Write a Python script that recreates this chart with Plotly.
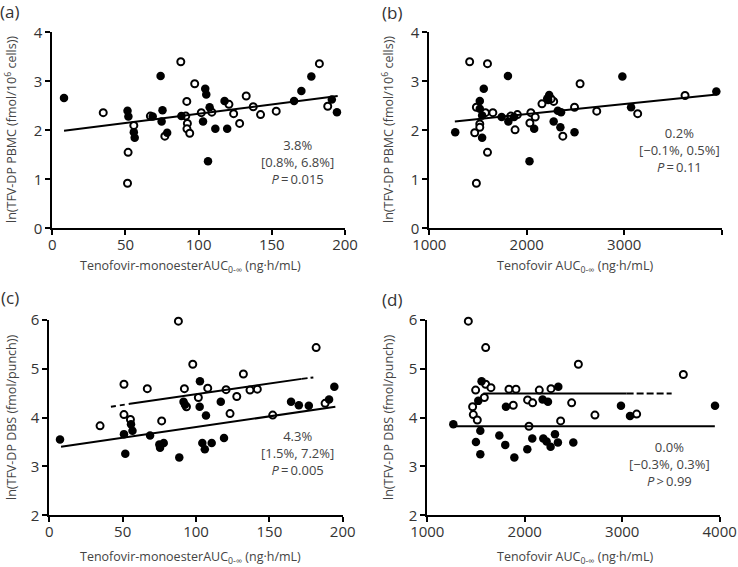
import plotly.graph_objects as go

# (a) PBMC vs tenofovir-monoester AUC
a_fill_x = [8, 51.4, 52, 55.7, 56.3, 68.6, 74, 75.3, 74.7, 78.5, 88.2, 104.5, 105.2, 107.5, 103, 111.4,
            106.4, 117.7, 119.5, 165.2, 170.2, 177, 191, 194.5]
a_fill_y = [2.66, 2.40, 2.28, 1.96, 1.85, 2.28, 3.11, 2.41, 2.18, 1.95, 2.29, 2.85, 2.73, 2.47, 2.18, 2.03,
            1.37, 2.60, 2.03, 2.60, 2.80, 3.10, 2.63, 2.37]
a_open_x = [34.8, 55.7, 51.8, 51.4, 67, 76.9, 87.8, 97.3, 91.9, 91.2, 92.3, 92, 93.9, 101.8, 109, 120.7,
            123.9, 128, 132.5, 137.3, 142.3, 153, 182.5, 188.2]
a_open_y = [2.36, 2.10, 1.55, 0.92, 2.29, 1.88, 3.40, 2.95, 2.59, 2.29, 2.14, 2.03, 1.94, 2.36, 2.37, 2.53,
            2.34, 2.14, 2.70, 2.48, 2.32, 2.39, 3.36, 2.49]
a_fit_x = [8, 195]
a_fit_y = [1.99, 2.70]

# (b) PBMC vs tenofovir AUC
b_fill_x = [1266, 1807, 1559, 1518, 1518, 1542, 1542, 1742, 1811, 1870, 2076, 2028, 2210, 2230, 2220, 2276,
            2318, 2352, 2345, 2490, 2981, 3070, 3945]
b_fill_y = [1.96, 3.11, 2.85, 2.60, 2.44, 2.30, 1.85, 2.27, 2.18, 2.27, 2.03, 1.37, 2.65, 2.72, 2.62, 2.18,
            2.40, 2.37, 2.06, 1.96, 3.10, 2.47, 2.79]
b_open_x = [1414, 1597, 1483, 1576, 1652, 1518, 1518, 1466, 1597, 1483, 1835, 1904, 1880, 2042, 2032, 2087,
            2156, 2276, 2250, 2370, 2490, 2547, 2718, 3138, 3624]
b_open_y = [3.40, 3.36, 2.47, 2.36, 2.36, 2.13, 2.06, 1.95, 1.55, 0.92, 2.29, 2.32, 2.01, 2.36, 2.15, 2.27,
            2.54, 2.59, 2.64, 1.88, 2.47, 2.95, 2.39, 2.34, 2.71]
b_fit_x = [1262, 3950]
b_fit_y = [2.18, 2.73]

# (c) DBS vs tenofovir-monoester AUC
c_fill_x = [7.3, 50.9, 51.8, 55.7, 56.7, 68.7, 75, 75.5, 78, 88.6, 91.5, 92.5, 102.7, 102.5, 106.8, 104.3,
            106, 110.7, 116.9, 119.1, 164.8, 170.1, 176.9, 190.7, 194.3]
c_fill_y = [3.55, 3.66, 3.26, 3.86, 3.73, 3.63, 3.45, 3.38, 3.48, 3.18, 4.32, 4.26, 4.74, 4.22, 4.04, 3.48,
            3.35, 3.48, 4.32, 3.58, 4.32, 4.25, 4.24, 4.37, 4.63]
c_open_x = [34.6, 50.9, 50.9, 55.3, 66.8, 76.6, 88, 97.8, 92.1, 93.5, 101.6, 108, 120.5, 123.2, 127.8,
            132.3, 136.8, 141.8, 152.3, 181.9, 188]
c_open_y = [3.83, 4.68, 4.06, 3.96, 4.59, 3.93, 5.97, 5.09, 4.59, 4.22, 4.41, 4.60, 4.57, 4.08, 4.43,
            4.89, 4.56, 4.58, 4.05, 5.43, 4.29]
c_fit_x = [8, 195]
c_fit_y = [3.40, 4.22]
c_up_x = [42, 55, 172, 180]
c_up_y = [4.22, 4.28, 4.79, 4.82]

# (d) DBS vs tenofovir AUC
d_fill_x = [1267, 1557, 1523, 1544, 1499, 1544, 1739, 1800, 1893, 1807, 2026, 2077, 2183, 2238, 2344, 2190,
            2224, 2265, 2310, 2340, 2498, 2987, 3080, 3952]
d_fill_y = [3.86, 4.74, 4.34, 3.73, 3.50, 3.25, 3.63, 3.44, 3.18, 4.22, 3.35, 3.57, 4.37, 4.32, 4.63, 3.57,
            3.51, 3.40, 3.66, 3.49, 3.49, 4.24, 4.03, 4.24]
d_open_x = [1421, 1599, 1599, 1653, 1496, 1585, 1465, 1472, 1513, 1882, 1838, 1910, 2029, 2081, 2043, 2149,
            2269, 2368, 2481, 2550, 2720, 3148, 3627]
d_open_y = [5.97, 5.43, 4.68, 4.61, 4.56, 4.41, 4.22, 4.06, 3.95, 4.25, 4.58, 4.58, 4.36, 4.30, 3.82, 4.56,
            4.59, 3.93, 4.30, 5.09, 4.05, 4.07, 4.88]
d_fit_x = [1270, 3950]
d_fit_y = [3.82, 3.82]
d_up_x = [1575, 3045, 3507]
d_up_y = [4.49, 4.49, 4.49]

stats_txt = [
    "3.8%<br>[0.8%, 6.8%]<br><i>P</i>\u2009=\u20090.015",
    "0.2%<br>[−0.1%, 0.5%]<br><i>P</i>\u2009=\u20090.11",
    "4.3%<br>[1.5%, 7.2%]<br><i>P</i>\u2009=\u20090.005",
    "0.0%<br>[−0.3%, 0.3%]<br><i>P</i>\u2009>\u20090.99",
]

FONT = "Open Sans, Lato, sans-serif"
W, H = 738, 567


def px_dom(a, b, total, flip=False):
    if flip:
        return [1 - b / total, 1 - a / total]
    return [a / total, b / total]


fig = go.Figure()


def pts(x, y, ax, filled):
    if filled:
        m = dict(size=8.5, color="black", line=dict(width=0))
    else:
        m = dict(size=7, color="white", line=dict(width=2, color="black"))
    fig.add_trace(go.Scatter(x=x, y=y, mode="markers", marker=m, xaxis="x" + ax, yaxis="y" + ax,
                             showlegend=False, cliponaxis=False))


def line(x, y, ax, dash="solid"):
    fig.add_trace(go.Scatter(x=x, y=y, mode="lines", line=dict(color="black", width=2, dash=dash),
                             xaxis="x" + ax, yaxis="y" + ax, showlegend=False))


pts(a_open_x, a_open_y, "", False)
pts(a_fill_x, a_fill_y, "", True)
line(a_fit_x, a_fit_y, "")

pts(b_open_x, b_open_y, "2", False)
pts(b_fill_x, b_fill_y, "2", True)
line(b_fit_x, b_fit_y, "2")

pts(c_open_x, c_open_y, "3", False)
pts(c_fill_x, c_fill_y, "3", True)
line(c_fit_x, c_fit_y, "3")
line(c_up_x[0:2], c_up_y[0:2], "3", "5px,4px")
line(c_up_x[1:3], c_up_y[1:3], "3")
line(c_up_x[2:4], c_up_y[2:4], "3", "6px,3px")

pts(d_open_x, d_open_y, "4", False)
pts(d_fill_x, d_fill_y, "4", True)
line(d_fit_x, d_fit_y, "4")
line(d_up_x[0:2], d_up_y[0:2], "4")
line(d_up_x[1:3], d_up_y[1:3], "4", "7px,3px")

ax_style = dict(showline=True, linecolor="black", linewidth=2, ticks="outside", ticklen=5, tickwidth=2,
                tickcolor="black", showgrid=False, zeroline=False, automargin=False,
                tickfont=dict(family=FONT, size=15, color="#333"))
xs = dict(ticklabelstandoff=-3)

fig.update_layout(
    width=W, height=H, margin=dict(l=0, r=0, t=0, b=0, autoexpand=False),
    plot_bgcolor="white", paper_bgcolor="white",
    xaxis=dict(ax_style, **xs, domain=px_dom(52.3, 345, W), range=[0, 200], tickvals=[0, 50, 100, 150, 200],
               anchor="y"),
    yaxis=dict(ax_style, domain=px_dom(32.3, 228.3, H, True), range=[0, 4], tickvals=[0, 1, 2, 3, 4],
               anchor="x"),
    xaxis2=dict(ax_style, **xs, domain=px_dom(429.3, 721.7, W), range=[1000, 4000],
                tickvals=[1000, 2000, 3000, 4000], anchor="y2"),
    yaxis2=dict(ax_style, domain=px_dom(32.3, 228.3, H, True), range=[0, 4], tickvals=[0, 1, 2, 3, 4],
                anchor="x2"),
    xaxis3=dict(ax_style, **xs, domain=px_dom(49.3, 342.7, W), range=[0, 200], tickvals=[0, 50, 100, 150, 200],
                anchor="y3"),
    yaxis3=dict(ax_style, domain=px_dom(319.7, 515.3, H, True), range=[2, 6], tickvals=[2, 3, 4, 5, 6],
                anchor="x3"),
    xaxis4=dict(ax_style, **xs, domain=px_dom(427.3, 719.7, W), range=[1000, 4000],
                tickvals=[1000, 2000, 3000, 4000], anchor="y4"),
    yaxis4=dict(ax_style, domain=px_dom(319.7, 515.3, H, True), range=[2, 6], tickvals=[2, 3, 4, 5, 6],
                anchor="x4"),
)

txt = dict(family=FONT, size=12.5, color="#444")
ytitle_pbmc = "ln(TFV-DP PBMC (fmol/10<sup>6</sup> cells))"
ytitle_dbs = "ln(TFV-DP DBS (fmol/punch))"
xtitle_mono = "Tenofovir-monoesterAUC<sub>0-∞</sub> (ng·h/mL)"
xtitle_tfv = "Tenofovir AUC<sub>0-∞</sub> (ng·h/mL)"

annots = []
# panel labels
for lab, x, y in [("(a)", 9, 11), ("(b)", 392, 12), ("(c)", 10, 297), ("(d)", 392, 299)]:
    annots.append(dict(text=lab, x=x / W, y=1 - y / H, xref="paper", yref="paper", showarrow=False,
                       font=dict(family=FONT, size=17, color="#333"), xanchor="center", yanchor="middle"))
# axis titles
for t, x, y in [(ytitle_pbmc, 11, 130), (ytitle_pbmc, 388, 130), (ytitle_dbs, 11, 418), (ytitle_dbs, 388, 418)]:
    annots.append(dict(text=t, x=x / W, y=1 - y / H, xref="paper", yref="paper", showarrow=False,
                       textangle=-90, font=txt, xanchor="center", yanchor="middle"))
for t, x, y in [(xtitle_mono, 190, 266), (xtitle_tfv, 575, 266), (xtitle_mono, 190, 557), (xtitle_tfv, 575, 557)]:
    annots.append(dict(text=t, x=x / W, y=1 - y / H, xref="paper", yref="paper", showarrow=False,
                       font=txt, xanchor="center", yanchor="middle"))
# stats
for t, x, y in zip(stats_txt, [297, 679, 297, 669], [162, 150, 453, 464]):
    annots.append(dict(text=t, x=x / W, y=1 - y / H, xref="paper", yref="paper", showarrow=False,
                       font=dict(family=FONT, size=13, color="#444"), xanchor="center", yanchor="middle",
                       align="center"))

fig.update_layout(annotations=annots)
fig.write_html("out.html", config={"displayModeBar": False},
               post_script="document.body.style.margin='0';")
